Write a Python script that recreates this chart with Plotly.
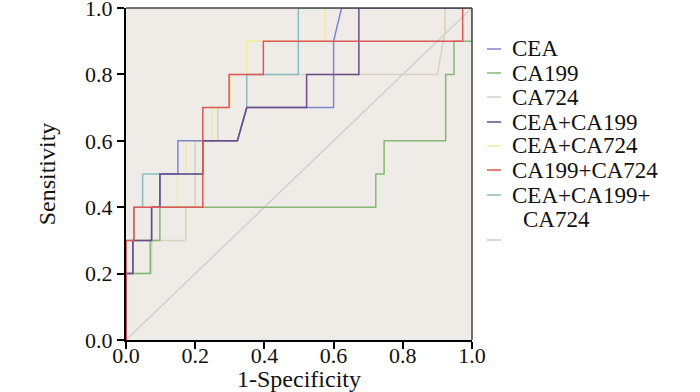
import plotly.graph_objects as go

# ---- data ----
series_names = ["CEA", "CA199", "CA724", "CEA+CA199", "CEA+CA724", "CA199+CA724", "CEA+CA199+CA724"]

cea_fpr = [0, 0, 0.02, 0.02, 0.074, 0.074, 0.098, 0.098, 0.15, 0.15, 0.322, 0.349, 0.6, 0.6, 0.623, 1]
cea_tpr = [0, 0.2, 0.2, 0.3, 0.3, 0.4, 0.4, 0.5, 0.5, 0.6, 0.6, 0.7, 0.7, 0.9, 1.0, 1.0]

ca199_fpr = [0, 0, 0.07, 0.07, 0.098, 0.098, 0.722, 0.722, 0.746, 0.746, 0.924, 0.924, 0.948, 0.948, 1, 1]
ca199_tpr = [0, 0.2, 0.2, 0.3, 0.3, 0.4, 0.4, 0.5, 0.5, 0.6, 0.6, 0.8, 0.8, 0.9, 0.9, 1.0]

ca724_fpr = [0, 0, 0.074, 0.074, 0.173, 0.173, 0.2, 0.2, 0.265, 0.265, 0.3, 0.3, 0.9, 0.922, 0.922, 1]
ca724_tpr = [0, 0.2, 0.2, 0.3, 0.3, 0.4, 0.4, 0.6, 0.6, 0.7, 0.7, 0.8, 0.8, 0.93, 1.0, 1.0]

cea_ca199_fpr = [0, 0, 0.02, 0.02, 0.074, 0.074, 0.098, 0.098, 0.222, 0.222, 0.322, 0.349, 0.522, 0.522, 0.673, 0.673, 1]
cea_ca199_tpr = [0, 0.2, 0.2, 0.3, 0.3, 0.4, 0.4, 0.5, 0.5, 0.6, 0.6, 0.7, 0.7, 0.8, 0.8, 1.0, 1.0]

cea_ca724_fpr = [0, 0, 0.02, 0.02, 0.074, 0.074, 0.149, 0.149, 0.173, 0.173, 0.248, 0.248, 0.3, 0.3, 0.349, 0.349, 0.575, 0.575, 1]
cea_ca724_tpr = [0, 0.2, 0.2, 0.3, 0.3, 0.4, 0.4, 0.5, 0.5, 0.6, 0.6, 0.7, 0.7, 0.8, 0.8, 0.9, 0.9, 1.0, 1.0]

ca199_ca724_fpr = [0, 0, 0.023, 0.023, 0.222, 0.222, 0.298, 0.298, 0.397, 0.397, 0.973, 0.973, 1]
ca199_ca724_tpr = [0, 0.3, 0.3, 0.4, 0.4, 0.7, 0.7, 0.8, 0.8, 0.9, 0.9, 1.0, 1.0]

all3_fpr = [0, 0, 0.023, 0.023, 0.048, 0.048, 0.222, 0.222, 0.322, 0.349, 0.349, 0.498, 0.498, 1]
all3_tpr = [0, 0.3, 0.3, 0.4, 0.4, 0.5, 0.5, 0.6, 0.6, 0.7, 0.8, 0.8, 1.0, 1.0]

ref_fpr = [0, 1]
ref_tpr = [0, 1]

tick_vals = [0, 0.2, 0.4, 0.6, 0.8, 1.0]
tick_text = ["0.0", "0.2", "0.4", "0.6", "0.8", "1.0"]

colors = ["#7f84cc", "#84b874", "#d6d1c0", "#6a4c8a", "#f3e99a", "#e05555", "#8bbcc2"]
ref_color = "#c9c9c9"

curves = [
    (cea_fpr, cea_tpr),
    (ca199_fpr, ca199_tpr),
    (ca724_fpr, ca724_tpr),
    (cea_ca199_fpr, cea_ca199_tpr),
    (cea_ca724_fpr, cea_ca724_tpr),
    (ca199_ca724_fpr, ca199_ca724_tpr),
    (all3_fpr, all3_tpr),
]

SERIF = "Liberation Serif, Times New Roman, serif"

fig = go.Figure()
fig.add_trace(go.Scatter(x=ref_fpr, y=ref_tpr, mode="lines", name="",
                         line=dict(color=ref_color, width=1.2), showlegend=False))
# draw order: lighter first so dark lines on top
order = [2, 4, 1, 6, 0, 3, 5]
for i in order:
    fx, ty = curves[i]
    fig.add_trace(go.Scatter(x=fx, y=ty, mode="lines", name=series_names[i],
                             line=dict(color=colors[i], width=1.5), showlegend=False))

# manual legend (short line swatches + serif labels)
leg_y_px = [49, 73, 97, 122, 146, 170, 195]
leg_labels = ["CEA", "CA199", "CA724", "CEA+CA199", "CEA+CA724", "CA199+CA724", "CEA+CA199+"]
W, H = 700, 392
ml, mr, mt, mb = 126, 228, 8, 52
pw, ph = W - ml - mr, H - mt - mb

def px_to_paper_x(px):
    return (px - ml) / pw

def px_to_paper_y(py):
    return (H - mb - py) / ph

LEG_FONT = dict(family=SERIF, size=23, color="#111")
shapes = []
annotations = []
for k, (yy, lab) in enumerate(zip(leg_y_px, leg_labels)):
    shapes.append(dict(type="line", xref="paper", yref="paper",
                       x0=px_to_paper_x(487), x1=px_to_paper_x(501),
                       y0=px_to_paper_y(yy), y1=px_to_paper_y(yy),
                       line=dict(color=colors[k], width=1.5)))
    annotations.append(dict(xref="paper", yref="paper", x=px_to_paper_x(510),
                            y=px_to_paper_y(yy), xanchor="left", yanchor="middle",
                            text=lab, showarrow=False, font=LEG_FONT))
annotations.append(dict(xref="paper", yref="paper", x=px_to_paper_x(521),
                        y=px_to_paper_y(220), xanchor="left", yanchor="middle",
                        text="CA724", showarrow=False, font=LEG_FONT))
shapes.append(dict(type="line", xref="paper", yref="paper",
                   x0=px_to_paper_x(487), x1=px_to_paper_x(501),
                   y0=px_to_paper_y(240), y1=px_to_paper_y(240),
                   line=dict(color=ref_color, width=1.5)))
# top and right frame
shapes.append(dict(type="line", xref="paper", yref="paper", x0=0, x1=1, y0=1, y1=1,
                   line=dict(color="#444", width=1.5)))
shapes.append(dict(type="line", xref="paper", yref="paper", x0=1, x1=1, y0=0, y1=1,
                   line=dict(color="#444", width=1.5)))

fig.update_layout(
    width=W, height=H,
    margin=dict(l=ml, r=mr, t=mt, b=mb, pad=0, autoexpand=False),
    paper_bgcolor="white",
    plot_bgcolor="#efece8",
    shapes=shapes,
    annotations=annotations,
    showlegend=False,
    font=dict(family=SERIF, size=22, color="#111"),
)
fig.update_xaxes(range=[0, 1], tickvals=tick_vals, ticktext=tick_text, automargin=False,
                 showgrid=False, zeroline=False, showline=True, linecolor="black",
                 linewidth=2, ticks="outside", ticklen=7, tickwidth=2, tickcolor="black",
                 tickfont=dict(family=SERIF, size=22), ticklabeloverflow="allow",
                 ticklabelstandoff=-12,
                 title=dict(text="1-Specificity", font=dict(family=SERIF, size=24), standoff=0))
fig.update_yaxes(range=[0, 1], tickvals=tick_vals, ticktext=tick_text, automargin=False,
                 showgrid=False, zeroline=False, showline=True, linecolor="black",
                 linewidth=2, ticks="outside", ticklen=7, tickwidth=2, tickcolor="black",
                 tickfont=dict(family=SERIF, size=22), ticklabeloverflow="allow",
                 title=dict(text="Sensitivity", font=dict(family=SERIF, size=24), standoff=23))

fig.write_html("out.html", config={"displayModeBar": False},
               post_script="document.body.style.margin='0px';")
